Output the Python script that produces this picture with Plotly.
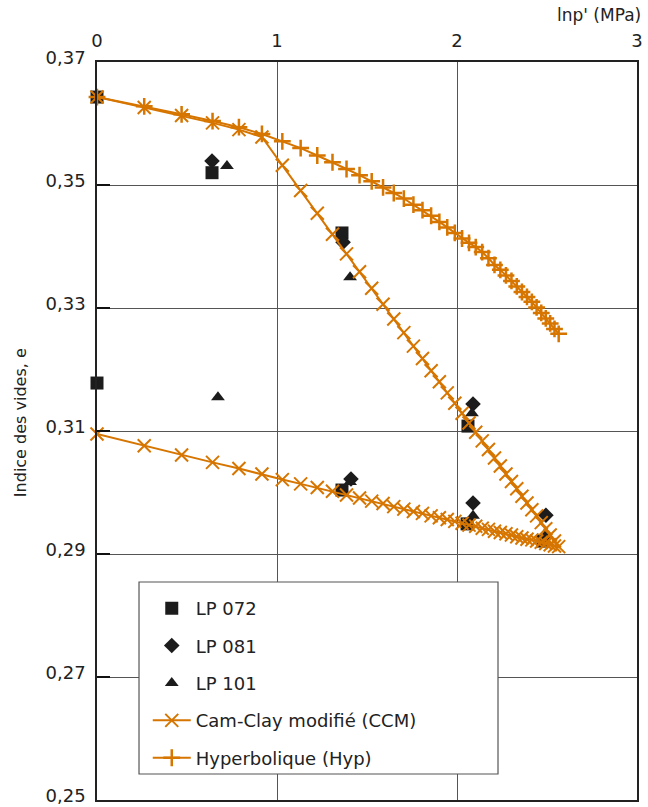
import plotly.graph_objects as go

# ln p' (MPa) at the computed stress steps
lnp = [0, 0.2624, 0.4700, 0.6419, 0.7885, 0.9163, 1.0296, 1.1314, 1.2238, 1.3083,
       1.3863, 1.4586, 1.5261, 1.5892, 1.6487, 1.7047, 1.7579, 1.8083, 1.8563, 1.9021,
       1.9459, 1.9879, 2.0281, 2.0669, 2.1041, 2.1401, 2.1748, 2.2083, 2.2407, 2.2721,
       2.3026, 2.3321, 2.3609, 2.3888, 2.4159, 2.4423, 2.4681, 2.4932, 2.5177, 2.5416,
       2.5649]

# Hyperbolic model, loading
e_hyp = [0.3643, 0.3628, 0.3615, 0.3604, 0.3594, 0.3583, 0.3571, 0.3560, 0.3548, 0.3537,
         0.3526, 0.3516, 0.3506, 0.3496, 0.3487, 0.3478, 0.3468, 0.3459, 0.3450, 0.3440,
         0.3431, 0.3422, 0.3413, 0.3406, 0.3399, 0.3391, 0.3381, 0.3370, 0.3362, 0.3353,
         0.3344, 0.3335, 0.3326, 0.3318, 0.3310, 0.3301, 0.3292, 0.3283, 0.3275, 0.3266,
         0.3258]

# Modified Cam-Clay, loading branch
e_ccm_load = [0.3643, 0.3626, 0.3613, 0.3601, 0.3590, 0.3578, 0.3532, 0.3491, 0.3454, 0.3420,
              0.3388, 0.3359, 0.3332, 0.3306, 0.3282, 0.3260, 0.3238, 0.3218, 0.3198, 0.3180,
              0.3162, 0.3145, 0.3129, 0.3113, 0.3098, 0.3084, 0.3070, 0.3056, 0.3043, 0.3030,
              0.3018, 0.3006, 0.2994, 0.2983, 0.2972, 0.2962, 0.2951, 0.2941, 0.2931, 0.2921,
              0.2912]

# Modified Cam-Clay, unloading branch (listed by increasing ln p')
e_ccm_unload = [0.3095, 0.3076, 0.3061, 0.3049, 0.3039, 0.3030, 0.3021, 0.3014, 0.3008, 0.3002,
                0.2996, 0.2991, 0.2986, 0.2982, 0.2977, 0.2973, 0.2969, 0.2966, 0.2962, 0.2959,
                0.2956, 0.2953, 0.2950, 0.2947, 0.2945, 0.2942, 0.2940, 0.2937, 0.2935, 0.2933,
                0.2931, 0.2928, 0.2926, 0.2924, 0.2923, 0.2921, 0.2919, 0.2917, 0.2915, 0.2913,
                0.2912]

# Oedometer test results
lp072_x = [0, 0, 0.639, 1.361, 1.361, 2.061, 2.056, 2.478]
lp072_e = [0.3643, 0.3178, 0.3520, 0.3422, 0.3004, 0.3108, 0.2949, 0.2921]
lp081_x = [0.639, 1.367, 1.411, 2.089, 2.089, 2.494]
lp081_e = [0.3539, 0.3407, 0.3022, 0.3144, 0.2983, 0.2963]
lp101_x = [0.722, 0.672, 1.406, 1.406, 2.083, 2.089, 2.494]
lp101_e = [0.3531, 0.3155, 0.3350, 0.3017, 0.3129, 0.2962, 0.2931]

x_ticks = [0, 1, 2, 3]
y_ticks = [0.25, 0.27, 0.29, 0.31, 0.33, 0.35, 0.37]

ORANGE = "#D67500"
INK = "#1c1c1c"
FONT = "DejaVu Sans, Liberation Sans, sans-serif"

fig = go.Figure()

fig.add_trace(go.Scatter(x=lp072_x, y=lp072_e, mode="markers", name="LP 072",
                         legendgroup="a", cliponaxis=False,
                         marker=dict(symbol="square", size=13, color=INK)))
fig.add_trace(go.Scatter(x=lp081_x, y=lp081_e, mode="markers", name="LP 081",
                         legendgroup="b", cliponaxis=False,
                         marker=dict(symbol="diamond", size=12, color=INK)))
fig.add_trace(go.Scatter(x=lp101_x, y=lp101_e, mode="markers", name="LP 101",
                         legendgroup="c", cliponaxis=False,
                         marker=dict(symbol="triangle-up", size=12, color=INK)))

ccm_x = lnp + lnp[::-1][1:]
ccm_e = e_ccm_load + e_ccm_unload[::-1][1:]
fig.add_trace(go.Scatter(x=ccm_x, y=ccm_e, mode="lines+markers",
                         name="Cam-Clay modifié (CCM)", legendgroup="d", cliponaxis=False,
                         line=dict(color=ORANGE, width=2),
                         marker=dict(symbol="x-thin", size=13,
                                     line=dict(color=ORANGE, width=2))))
fig.add_trace(go.Scatter(x=lnp, y=e_hyp, mode="lines+markers",
                         name="Hyperbolique (Hyp)", legendgroup="e", cliponaxis=False,
                         line=dict(color=ORANGE, width=2),
                         marker=dict(symbol="cross-thin", size=12,
                                     line=dict(color=ORANGE, width=2.5))))

# legend frame
fig.add_shape(type="rect", xref="paper", yref="paper",
              x0=0.0778, x1=0.7426, y0=0.0352, y1=0.2954,
              line=dict(color="#555555", width=1.2), fillcolor="white", layer="above")

fig.add_annotation(text="lnp' (MPa)", xref="paper", yref="paper",
                   x=1.011, y=1.0637, xanchor="right", yanchor="middle",
                   showarrow=False, font=dict(family=FONT, size=17, color="#222"))
fig.add_annotation(text="Indice des vides, e", xref="paper", yref="paper",
                   x=-0.1426, y=0.512, xanchor="center", yanchor="middle", textangle=-90,
                   showarrow=False, font=dict(family=FONT, size=16, color="#222"))

fig.update_layout(
    width=648, height=807,
    margin=dict(l=97, r=11, t=62, b=7, autoexpand=False),
    paper_bgcolor="white", plot_bgcolor="white",
    separators=", ",
    font=dict(family=FONT, size=18, color="#222"),
    showlegend=True,
    legend=dict(x=0.094, y=0.2846, xanchor="left", yanchor="top",
                bgcolor="rgba(0,0,0,0)", borderwidth=0, itemwidth=38,
                tracegroupgap=11, font=dict(family=FONT, size=18, color="#222")),
    xaxis=dict(range=[0, 3], side="top", tickvals=x_ticks, ticktext=[str(v) for v in x_ticks],
               showgrid=True, gridcolor="#555555", gridwidth=1,
               showline=True, linecolor="#222", linewidth=1.5, mirror=True,
               ticks="", ticklabelstandoff=6, zeroline=False, automargin=False),
    yaxis=dict(range=[0.25, 0.37], tickvals=y_ticks, tickformat=".2f",
               showgrid=True, gridcolor="#555555", gridwidth=1,
               showline=True, linecolor="#222", linewidth=1.5, mirror=True,
               ticks="inside", ticklen=13, tickcolor="#111", tickwidth=1.5,
               ticklabelstandoff=6, ticklabelshift=-4, ticklabeloverflow="allow",
               zeroline=False, automargin=False),
)

fig.write_html("out.html")
